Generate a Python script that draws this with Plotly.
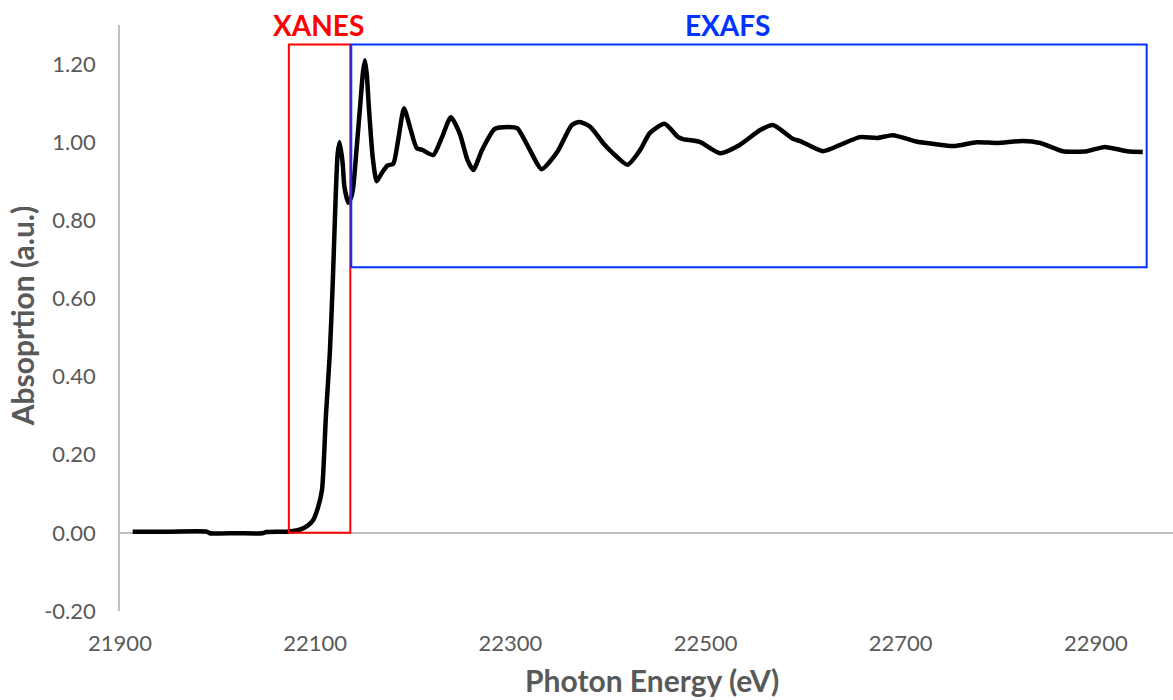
import plotly.graph_objects as go

# X-ray absorption spectrum (photon energy in eV, normalised absorption)
energy_ev = [
    21913, 21950, 21989, 21992, 22020, 22046, 22050, 22071, 22084, 22092,
    22098, 22103, 22107, 22111, 22115, 22118, 22121, 22123, 22125, 22128,
    22130, 22134, 22137, 22139, 22143, 22146, 22149, 22151, 22153, 22155,
    22159, 22163, 22168, 22174, 22180, 22185, 22191, 22197, 22204, 22210,
    22221, 22230, 22239, 22248, 22256, 22262, 22271, 22284, 22298, 22307,
    22320, 22332, 22348, 22363, 22371, 22382, 22395, 22405, 22420, 22433,
    22443, 22458, 22472, 22477, 22494, 22515, 22535, 22556, 22569, 22590,
    22597, 22620, 22638, 22658, 22676, 22692, 22717, 22727, 22754, 22778,
    22799, 22825, 22843, 22866, 22891, 22909, 22932, 22948,
]
absorption = [
    0.003, 0.003, 0.003, -0.001, -0.001, -0.001, 0.002, 0.003, 0.008, 0.018,
    0.033, 0.066, 0.110, 0.300, 0.460, 0.640, 0.860, 0.970, 1.000, 0.950,
    0.885, 0.845, 0.860, 0.885, 1.000, 1.090, 1.180, 1.210, 1.170, 1.090,
    0.960, 0.900, 0.920, 0.940, 0.945, 1.005, 1.087, 1.040, 0.985, 0.980,
    0.967, 1.013, 1.064, 1.023, 0.955, 0.929, 0.980, 1.034, 1.039, 1.036,
    0.980, 0.931, 0.975, 1.044, 1.052, 1.039, 0.998, 0.972, 0.942, 0.980,
    1.024, 1.047, 1.013, 1.008, 1.001, 0.972, 0.993, 1.031, 1.044, 1.008,
    1.003, 0.977, 0.993, 1.013, 1.011, 1.018, 1.001, 0.998, 0.990, 1.000,
    0.998, 1.003, 0.998, 0.977, 0.977, 0.988, 0.977, 0.975,
]

y_ticks = [-0.2, 0.0, 0.2, 0.4, 0.6, 0.8, 1.0, 1.2]
x_ticks = [21900, 22100, 22300, 22500, 22700, 22900]

# Spectral regions
xanes_range = (22073, 22136)
exafs_range = (22137, 22952)
region_top = 1.25
exafs_bottom = 0.68

GREY = "#595959"
AXIS_GREY = "#BFBFBF"
RED = "#FF0000"
BLUE = "#0033FF"
FONT = "Lato"

fig = go.Figure()
fig.add_trace(go.Scatter(
    x=energy_ev, y=absorption, mode="lines",
    line=dict(color="black", width=4.5, shape="spline", smoothing=0.6),
    showlegend=False, hoverinfo="x+y",
))

fig.add_shape(type="rect", xref="x", yref="y",
              x0=xanes_range[0], x1=xanes_range[1], y0=0, y1=region_top,
              line=dict(color=RED, width=2), fillcolor="rgba(0,0,0,0)")
fig.add_shape(type="rect", xref="x", yref="y",
              x0=exafs_range[0], x1=exafs_range[1], y0=exafs_bottom, y1=region_top,
              line=dict(color=BLUE, width=2), fillcolor="rgba(0,0,0,0)")

fig.add_annotation(x=22103, y=1.0, xref="x", yref="paper", text="<b>XANES</b>",
                   showarrow=False, xanchor="center", yanchor="middle",
                   font=dict(family=FONT, size=28, color=RED))
fig.add_annotation(x=22523, y=1.0, xref="x", yref="paper", text="<b>EXAFS</b>",
                   showarrow=False, xanchor="center", yanchor="middle",
                   font=dict(family=FONT, size=28, color=BLUE))

# Axis titles
fig.add_annotation(x=0.505, y=-0.117, xref="paper", yref="paper",
                   text="<b>Photon Energy (eV)</b>", showarrow=False,
                   xanchor="center", yanchor="middle",
                   font=dict(family=FONT, size=30, color=GREY))
fig.add_annotation(x=-0.093, y=0.503, xref="paper", yref="paper",
                   text="<b>Absoprtion (a.u.)</b>", showarrow=False, textangle=-90,
                   xanchor="center", yanchor="middle",
                   font=dict(family=FONT, size=30, color=GREY))

fig.update_layout(
    width=1173, height=700,
    margin=dict(l=120, r=0, t=25, b=89),
    paper_bgcolor="white", plot_bgcolor="white",
    font=dict(family=FONT, color=GREY),
    xaxis=dict(
        range=[21900, 22979], tickvals=x_ticks, ticktext=[str(v) for v in x_ticks],
        showgrid=False, zeroline=False, showline=False, ticks="",
        ticklabelstandoff=17, tickfont=dict(family=FONT, size=22, color=GREY),
    ),
    yaxis=dict(
        range=[-0.2, 1.3], tickvals=y_ticks, ticktext=[f"{v:.2f}" for v in y_ticks],
        showgrid=False, zeroline=True, zerolinecolor=AXIS_GREY, zerolinewidth=1.5,
        showline=True, linecolor=AXIS_GREY, linewidth=1.5, ticks="",
        ticklabelstandoff=18, tickfont=dict(family=FONT, size=22, color=GREY),
    ),
)

fig.write_html("out.html")
